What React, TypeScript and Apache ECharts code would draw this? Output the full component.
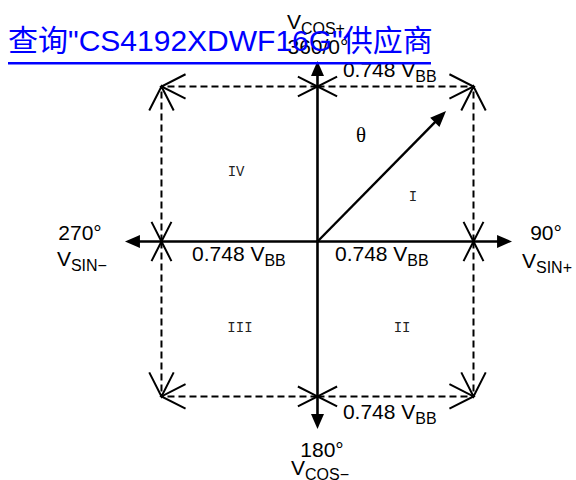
import React, { useEffect, useRef } from "react";
import * as echarts from "echarts";

// ---- diagram data (data units: square corners at ±1) ----
const dashedSegments = [
  [0, 1, -1, 1],
  [0, 1, 1, 1],
  [1, 0, 1, 1],
  [1, 0, 1, -1],
  [0, -1, -1, -1],
  [0, -1, 1, -1],
  [-1, 0, -1, 1],
  [-1, 0, -1, -1],
];
const axisTips = [
  [0, 1.165],
  [1.247, 0],
  [0, -1.21],
  [-1.234, 0],
];
const vectorTip = [0.824, 0.842];

const angleLabels = ["360/0°", "90°", "180°", "270°"];
const angleLabelPos = [
  [0.003, 1.261],
  [1.465, 0.061],
  [0.029, -1.339],
  [-1.522, 0.055],
];
const signalMain = "V";
const signalSubs = ["COS+", "SIN+", "COS−", "SIN−"];
const signalPos = [
  [-0.01, 1.41],
  [1.471, -0.132],
  [0.016, -1.466],
  [-1.51, -0.119],
];
const quadrantLabels = ["I", "II", "III", "IV"];
const quadrantPos = [
  [0.612, 0.287],
  [0.542, -0.558],
  [-0.497, -0.558],
  [-0.522, 0.448],
];
const sideValue = "0.748";
const sideUnit = "V";
const sideSub = "BB";
const sidePos = [
  [0.163, 1.1],
  [0.112, -0.087],
  [0.163, -1.106],
  [-0.804, -0.087],
];
const thetaLabel = "θ";
const thetaPos = [[0.279, 0.687]];
const titleText = '查询"CS4192XDWF16G"供应商';

// ---- view extents ----
const X_MIN = -2.035;
const X_MAX = 1.657;
const Y_MIN = -1.539;
const Y_MAX = 1.558;

const SANS = '"Liberation Sans", Arial, "Noto Sans CJK SC", sans-serif';

function openHead(tip: number[], from: number[], len: number, half: number) {
  const ang = Math.atan2(from[1] - tip[1], from[0] - tip[0]);
  return [
    [tip[0] + len * Math.cos(ang + half), tip[1] + len * Math.sin(ang + half)],
    [tip[0], tip[1]],
    [tip[0] + len * Math.cos(ang - half), tip[1] + len * Math.sin(ang - half)],
  ];
}

function solidArrow(o: number[], t: number[], headLen: number, headHalf: number, lw: number) {
  const dx = t[0] - o[0];
  const dy = t[1] - o[1];
  const L = Math.sqrt(dx * dx + dy * dy);
  const ux = dx / L;
  const uy = dy / L;
  const bx = t[0] - ux * headLen;
  const by = t[1] - uy * headLen;
  return [
    {
      type: "line",
      shape: { x1: o[0], y1: o[1], x2: bx + ux, y2: by + uy },
      style: { stroke: "#000", lineWidth: lw, fill: "none" },
    },
    {
      type: "polygon",
      shape: {
        points: [
          [t[0], t[1]],
          [bx - uy * headHalf, by + ux * headHalf],
          [bx + uy * headHalf, by - ux * headHalf],
        ],
      },
      style: { fill: "#000", stroke: "none" },
    },
  ];
}

const subRich = {
  m: { fontSize: 21, lineHeight: 23, verticalAlign: "top", fontFamily: SANS, color: "#000" },
  s: { fontSize: 16, lineHeight: 35, verticalAlign: "middle", fontFamily: SANS, color: "#000" },
};

export default function App() {
  const ref = useRef<HTMLDivElement>(null);

  useEffect(() => {
    document.body.style.margin = "0";
    const chart = echarts.init(ref.current!, null, { renderer: "svg" });

    const option: any = {
      animation: false,
      backgroundColor: "#fff",
      grid: { left: 0, right: 0, top: 0, bottom: 0 },
      xAxis: { type: "value", min: X_MIN, max: X_MAX, show: false },
      yAxis: { type: "value", min: Y_MIN, max: Y_MAX, show: false },
      series: [
        {
          type: "custom",
          name: "dashed",
          coordinateSystem: "cartesian2d",
          silent: true,
          clip: false,
          data: dashedSegments,
          renderItem: (_p: any, api: any) => {
            const a = api.coord([api.value(0), api.value(1)]);
            const b = api.coord([api.value(2), api.value(3)]);
            return {
              type: "group",
              children: [
                {
                  type: "line",
                  shape: { x1: a[0], y1: a[1], x2: b[0], y2: b[1] },
                  style: { stroke: "#000", lineWidth: 2, lineDash: [7, 4], fill: "none" },
                },
                {
                  type: "polyline",
                  shape: { points: openHead(a, b, 22, 0.47) },
                  style: { stroke: "#000", lineWidth: 2, fill: "none" },
                },
                {
                  type: "polyline",
                  shape: { points: openHead(b, a, 27, 0.47) },
                  style: { stroke: "#000", lineWidth: 2, fill: "none" },
                },
              ],
            };
          },
        },
        {
          type: "custom",
          name: "axes",
          coordinateSystem: "cartesian2d",
          silent: true,
          clip: false,
          data: axisTips,
          renderItem: (_p: any, api: any) => {
            const o = api.coord([0, 0]);
            const t = api.coord([api.value(0), api.value(1)]);
            return { type: "group", children: solidArrow(o, t, 15, 6.5, 2.6) };
          },
        },
        {
          type: "custom",
          name: "vector",
          coordinateSystem: "cartesian2d",
          silent: true,
          clip: false,
          data: [vectorTip],
          renderItem: (_p: any, api: any) => {
            const o = api.coord([0, 0]);
            const t = api.coord([api.value(0), api.value(1)]);
            return { type: "group", children: solidArrow(o, t, 16, 6.5, 2.4) };
          },
        },
        {
          type: "custom",
          name: "angles",
          coordinateSystem: "cartesian2d",
          silent: true,
          clip: false,
          data: angleLabelPos.map((p, i) => [p[0], p[1], i]),
          renderItem: (_p: any, api: any) => {
            const c = api.coord([api.value(0), api.value(1)]);
            return {
              type: "text",
              x: c[0],
              y: c[1],
              style: {
                text: angleLabels[api.value(2)],
                fontSize: 21,
                fontFamily: SANS,
                fill: "#000",
                align: "center",
                verticalAlign: "middle",
              },
            };
          },
        },
        {
          type: "custom",
          name: "signals",
          coordinateSystem: "cartesian2d",
          silent: true,
          clip: false,
          data: signalPos.map((p, i) => [p[0], p[1], i]),
          renderItem: (_p: any, api: any) => {
            const c = api.coord([api.value(0), api.value(1)]);
            return {
              type: "text",
              x: c[0],
              y: c[1] + 6,
              style: {
                text: `{m|${signalMain}}{s|${signalSubs[api.value(2)]}}`,
                rich: subRich,
                align: "center",
                verticalAlign: "middle",
              },
            };
          },
        },
        {
          type: "custom",
          name: "sides",
          coordinateSystem: "cartesian2d",
          silent: true,
          clip: false,
          data: sidePos,
          renderItem: (_p: any, api: any) => {
            const c = api.coord([api.value(0), api.value(1)]);
            return {
              type: "text",
              x: c[0],
              y: c[1] + 6,
              style: {
                text: `{m|${sideValue} ${sideUnit}}{s|${sideSub}}`,
                rich: subRich,
                align: "left",
                verticalAlign: "middle",
              },
            };
          },
        },
        {
          type: "custom",
          name: "quadrants",
          coordinateSystem: "cartesian2d",
          silent: true,
          clip: false,
          data: quadrantPos.map((p, i) => [p[0], p[1], i]),
          renderItem: (_p: any, api: any) => {
            const c = api.coord([api.value(0), api.value(1)]);
            return {
              type: "text",
              x: c[0],
              y: c[1],
              style: {
                text: quadrantLabels[api.value(2)],
                fontSize: 14,
                fontFamily: '"Liberation Mono", "DejaVu Sans Mono", monospace',
                fill: "#222",
                align: "center",
                verticalAlign: "middle",
              },
            };
          },
        },
        {
          type: "custom",
          name: "theta",
          coordinateSystem: "cartesian2d",
          silent: true,
          clip: false,
          data: thetaPos,
          renderItem: (_p: any, api: any) => {
            const c = api.coord([api.value(0), api.value(1)]);
            return {
              type: "text",
              x: c[0],
              y: c[1],
              style: {
                text: thetaLabel,
                fontSize: 21,
                fontFamily: '"Liberation Serif", "DejaVu Serif", serif',
                fill: "#000",
                align: "center",
                verticalAlign: "middle",
              },
            };
          },
        },
      ],
      graphic: [
        {
          type: "text",
          z: 100,
          left: 8,
          top: 25,
          style: {
            text: titleText,
            fontSize: 30,
            fontFamily: '"Liberation Sans", Arial, "Noto Sans CJK SC", sans-serif',
            fill: "#0000ff",
          },
        },
        {
          type: "rect",
          z: 100,
          shape: { x: 8, y: 62, width: 423, height: 2.5 },
          style: { fill: "#0000ff" },
        },
      ],
    };

    chart.setOption(option);
    return () => chart.dispose();
  }, []);

  return <div ref={ref} style={{ width: 576, height: 480 }} />;
}
